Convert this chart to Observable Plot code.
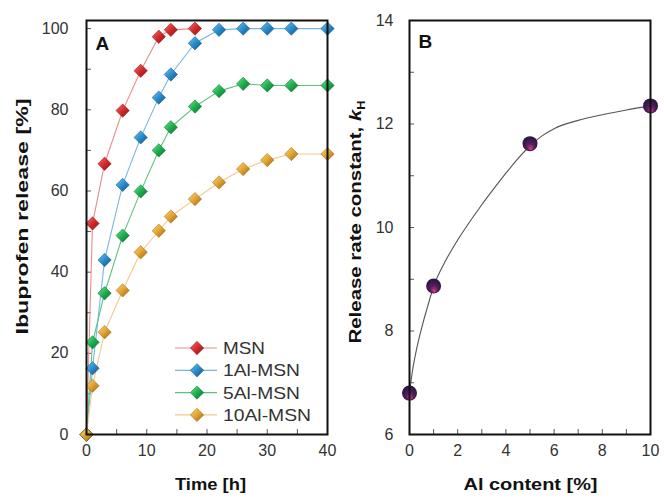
<!DOCTYPE html>
<html><head><meta charset="utf-8">
<script src="https://cdn.jsdelivr.net/npm/d3@7"></script>
<script src="https://cdn.jsdelivr.net/npm/@observablehq/plot@0.6"></script>
<style>
body{margin:0;background:#fff;}
#wrap{position:relative;width:664px;height:499px;overflow:hidden;background:#fff;font-family:"Liberation Sans",Arial,sans-serif;}
#wrap > svg{position:absolute;top:0;}
</style></head><body><div id="wrap"></div>
<script>
// ---- Panel A data: ibuprofen release [%] vs time [h]
const time  = [0, 1, 3, 6, 9, 12, 14, 18, 22, 26, 30, 34, 40];
const msn   = [0, 52, 66.7, 79.8, 89.6, 98, 99.7, 100];
const al1   = [0, 16.3, 43, 61.5, 73.2, 83, 88.7, 96.4, 99.7, 100, 100, 100, 100];
const al5   = [0, 22.7, 34.8, 49, 59.9, 70, 75.7, 80.8, 84.6, 86.4, 86, 86, 86];
const al10  = [0, 12, 25.2, 35.5, 44.9, 50.2, 53.7, 58, 62.1, 65.4, 67.6, 69.1, 69.1];
const seriesNames = ["MSN", "1Al-MSN", "5Al-MSN", "10Al-MSN"];
const seriesValues = [msn, al1, al5, al10];

// ---- Panel B data: release rate constant vs Al content
const alContent = [0, 1, 5, 10];
const rateK     = [6.8, 8.87, 11.62, 12.35];
// smooth trend line
const trendAl = [0, 0.1, 0.25, 0.5, 0.75, 1, 1.5, 2, 2.5, 3, 3.5, 4, 4.5, 5, 5.5, 6, 7, 8, 9, 10];
const trendK  = [6.8, 7.16, 7.55, 8.05, 8.47, 8.86, 9.36, 9.76, 10.11, 10.44, 10.75, 11.05, 11.33, 11.58, 11.77, 11.91, 12.07, 12.18, 12.27, 12.35];

// ---- tick labels
const xTicksA = [0, 10, 20, 30, 40];
const yTicksA = [0, 20, 40, 60, 80, 100];
const xMinorA = [0, 5, 10, 15, 20, 25, 30, 35, 40];
const yMinorA = [0, 10, 20, 30, 40, 50, 60, 70, 80, 90, 100];
const xTicksB = [0, 2, 4, 6, 8, 10];
const yTicksB = [6, 8, 10, 12, 14];
const xMinorB = [0, 1, 2, 3, 4, 5, 6, 7, 8, 9, 10];
const yMinorB = [6, 7, 8, 9, 10, 11, 12, 13, 14];

// ---- styles
const lineColors = ["#ea8c8c", "#78b6e2", "#5cc27e", "#f3c98e"];
const gradStops = [
  ["#f57070", "#d42a2a", "#8a1010"],
  ["#6cc6f2", "#2a8ccc", "#0f4f80"],
  ["#6ee690", "#1faf4e", "#0a6a2a"],
  ["#fbd67a", "#e2a232", "#9a6410"]
];
const strokeColors = ["#9a1a1a", "#1a5f90", "#137a38", "#a87418"];
const font = "Liberation Sans, Arial, sans-serif";

const tableA = seriesValues.map((vals, s) => vals.map((v, i) => ({t: time[i], v, s})));
const tableB = alContent.map((a, i) => ({a, k: rateK[i]}));
const trendB = trendAl.map((a, i) => ({a, k: trendK[i]}));

const wrap = document.getElementById("wrap");

// ---------- Panel A ----------
const innerWA = 340 - 86 - 13, innerHA = 499 - 20 - 65;
const marksA = [
  Plot.axisX({ticks: xTicksA, tickSize: 0, tickPadding: 10, fontSize: 16, fill: "#333", label: null}),
  Plot.axisY({ticks: yTicksA, tickSize: 0, tickPadding: 18, fontSize: 16, fill: "#333", label: null}),
  Plot.tickX(xMinorA, {x: d => d, insetTop: innerHA - 5, stroke: "#555", strokeWidth: 1}),
  Plot.tickY(yMinorA, {y: d => d, insetRight: innerWA - 5, stroke: "#555", strokeWidth: 1}),
];
tableA.forEach((rows, s) => {
  marksA.push(Plot.line(rows, {x: "t", y: "v", stroke: lineColors[s], strokeWidth: 1.1}));
});
tableA.forEach((rows, s) => {
  marksA.push(Plot.dot(rows, {x: "t", y: "v", symbol: "diamond2", r: 6, fill: `url(#gA${s})`, stroke: strokeColors[s], strokeWidth: 0.6}));
});
marksA.push(
  Plot.frame({stroke: "#111", strokeWidth: 2}),
  Plot.text(["A"], {frameAnchor: "top-left", textAnchor: "start", lineAnchor: "middle", dx: 9, dy: 23, fontSize: 19, fontWeight: "bold", fill: "#111"}),
  Plot.text(["Time [h]"], {frameAnchor: "bottom", textAnchor: "start", lineAnchor: "middle", dx: -32, dy: 50, fontSize: 16, fontWeight: "bold", fill: "#111"}),
  Plot.text(["Ibuprofen release [%]"], {frameAnchor: "left", textAnchor: "start", lineAnchor: "middle", rotate: -90, dx: -64, dy: 107, fontSize: 16, fontWeight: "bold", fill: "#111"})
);
const plotA = Plot.plot({
  width: 340, height: 499,
  marginLeft: 86, marginRight: 13, marginTop: 20, marginBottom: 65,
  x: {domain: [0, 40], label: null},
  y: {domain: [0, 102], label: null},
  style: {fontFamily: font, background: "white", overflow: "visible"},
  marks: marksA
});
plotA.style.left = "0px";
wrap.appendChild(plotA);

// ---------- Panel B ----------
const innerWB = 324 - 69 - 14, innerHB = 499 - 20 - 65;
const plotB = Plot.plot({
  width: 324, height: 499,
  marginLeft: 69, marginRight: 14, marginTop: 20, marginBottom: 65,
  x: {domain: [0, 10], label: null},
  y: {domain: [6, 14], label: null},
  style: {fontFamily: font, background: "white", overflow: "visible"},
  marks: [
    Plot.axisX({ticks: xTicksB, tickSize: 0, tickPadding: 10, fontSize: 16, fill: "#333", label: null}),
    Plot.axisY({ticks: yTicksB, tickSize: 0, tickPadding: 16, fontSize: 16, fill: "#333", label: null}),
    Plot.tickX(xMinorB, {x: d => d, insetTop: innerHB - 5, stroke: "#555", strokeWidth: 1}),
    Plot.tickY(yMinorB, {y: d => d, insetRight: innerWB - 5, stroke: "#555", strokeWidth: 1}),
    Plot.line(trendB, {x: "a", y: "k", curve: "monotone-x", stroke: "#555", strokeWidth: 1.1}),
    Plot.dot(tableB, {x: "a", y: "k", r: 7.5, fill: "url(#gBall)", stroke: "none"}),
    Plot.frame({stroke: "#111", strokeWidth: 2}),
    Plot.text(["B"], {frameAnchor: "top-left", textAnchor: "start", lineAnchor: "middle", dx: 9, dy: 21, fontSize: 19, fontWeight: "bold", fill: "#111"}),
    Plot.text(["Al content [%]"], {frameAnchor: "bottom", textAnchor: "start", lineAnchor: "middle", dx: -66.5, dy: 50, fontSize: 16, fontWeight: "bold", fill: "#111"}),
    Plot.text(["Release rate constant, "], {frameAnchor: "left", textAnchor: "start", lineAnchor: "middle", rotate: -90, dx: -54, dy: 116, fontSize: 16, fontWeight: "bold", fill: "#111"})
  ]
});
plotB.style.left = "340px";
wrap.appendChild(plotB);

// gradients
const defsA = d3.select(plotA).insert("defs", ":first-child");
gradStops.forEach((st, s) => {
  const g = defsA.append("linearGradient").attr("id", `gA${s}`).attr("x1", 0).attr("y1", 0).attr("x2", 1).attr("y2", 1);
  g.append("stop").attr("offset", "0%").attr("stop-color", st[0]);
  g.append("stop").attr("offset", "50%").attr("stop-color", st[1]);
  g.append("stop").attr("offset", "100%").attr("stop-color", st[2]);
});
const defsB = d3.select(plotB).insert("defs", ":first-child");
const rg = defsB.append("radialGradient").attr("id", "gBall").attr("cx", 0.5).attr("cy", 0.5).attr("r", 0.6).attr("fx", 0.55).attr("fy", 0.88);
rg.append("stop").attr("offset", "0%").attr("stop-color", "#d8428a");
rg.append("stop").attr("offset", "40%").attr("stop-color", "#5a1d5a");
rg.append("stop").attr("offset", "100%").attr("stop-color", "#141640");

// stretch titles to the reference's extent, and add k_H
function fitText(svg, content, len) {
  d3.select(svg).selectAll("text").filter(function() { return this.textContent === content; })
    .attr("textLength", len).attr("lengthAdjust", "spacingAndGlyphs");
}
fitText(plotA, "Time [h]", 71);
fitText(plotA, "Ibuprofen release [%]", 236);
fitText(plotB, "Al content [%]", 134);
d3.select(plotB).selectAll("text").filter(function() { return this.textContent === "Release rate constant, "; })
  .each(function() {
    const t = d3.select(this);
    t.text("").attr("textLength", 243).attr("lengthAdjust", "spacingAndGlyphs");
    t.append("tspan").text("Release rate constant, ");
    t.append("tspan").attr("font-style", "italic").text("k");
    t.append("tspan").attr("font-size", 10).attr("dy", 4).text("H");
  });

// ---------- Legend (panel A) ----------
const leg = d3.select(wrap).append("svg")
  .attr("width", 170).attr("height", 100)
  .style("position", "absolute").style("left", "170px").style("top", "335px");
const legDefs = leg.append("defs");
gradStops.forEach((st, s) => {
  const g = legDefs.append("linearGradient").attr("id", `gL${s}`).attr("x1", 0).attr("y1", 0).attr("x2", 1).attr("y2", 1);
  g.append("stop").attr("offset", "0%").attr("stop-color", st[0]);
  g.append("stop").attr("offset", "50%").attr("stop-color", st[1]);
  g.append("stop").attr("offset", "100%").attr("stop-color", st[2]);
});
const legLens = [42, 77, 77, 88];
const diamond = d3.symbol().type(d3.symbolDiamond2).size(Math.PI * 36)();
seriesNames.forEach((name, s) => {
  const y = 13 + s * 22.3;
  leg.append("line").attr("x1", 5).attr("x2", 47).attr("y1", y).attr("y2", y).attr("stroke", lineColors[s]).attr("stroke-width", 1.2);
  leg.append("path").attr("d", diamond).attr("transform", `translate(27,${y})`)
    .attr("fill", `url(#gL${s})`).attr("stroke", strokeColors[s]).attr("stroke-width", 0.6);
  leg.append("text").attr("x", 53).attr("y", y).attr("dy", "0.36em")
    .attr("font-family", font).attr("font-size", 17).attr("fill", "#333")
    .attr("textLength", legLens[s]).attr("lengthAdjust", "spacingAndGlyphs")
    .text(name);
});
</script></body></html>
